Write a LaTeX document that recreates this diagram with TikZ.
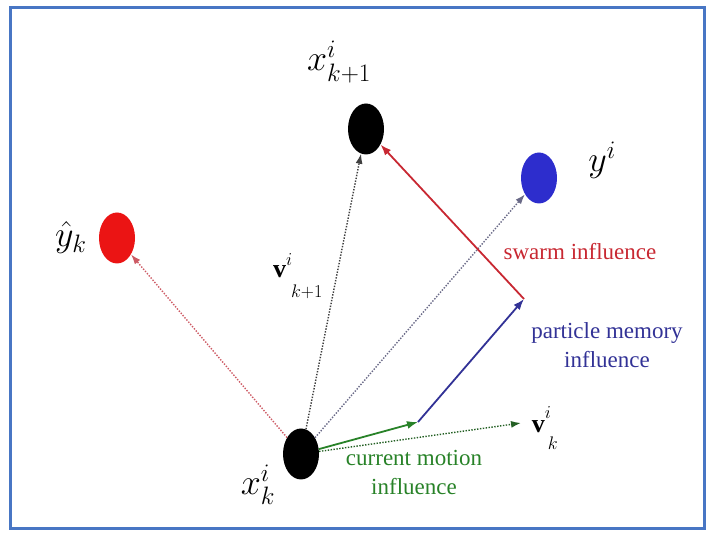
\RequirePackage{fix-cm}
\documentclass[tikz,border=0pt]{standalone}
\usepackage{amsmath,amssymb}
\usepackage{fontspec}
\setmainfont{Liberation Serif}
\usepackage{xcolor}
\usepackage{tikz}
\usetikzlibrary{shapes.geometric,arrows.meta,positioning}
\definecolor{frameblue}{RGB}{72,118,196}
\definecolor{bestred}{RGB}{235,20,20}
\definecolor{memblue}{RGB}{45,45,205}
\definecolor{swarmred}{RGB}{200,40,50}
\definecolor{pathblue}{RGB}{50,50,150}
\definecolor{motgreen}{RGB}{40,130,40}
\definecolor{dotred}{RGB}{205,90,100}
\definecolor{dotgray}{RGB}{105,105,135}
\definecolor{dotgreen}{RGB}{35,95,35}
\newcommand{\upidx}[2]{\raisebox{#1}{$\scriptstyle #2$}}

\begin{document}
\begin{tikzpicture}[x=1pt, y=-1pt,
  particle/.style={ellipse, minimum width=36pt, minimum height=51pt, inner sep=0pt},
  mlab/.style={font=\fontsize{36}{42}\selectfont, inner sep=0pt},
  vlab/.style={font=\fontsize{26}{30}\selectfont, inner sep=0pt},
  txt/.style={font=\fontsize{23}{29}\selectfont, align=center, inner sep=0pt},
  dotarr/.style={line width=1.4pt, dash pattern=on 1.4pt off 1.5pt,
                 -{Latex[length=10pt,width=7pt]}},
  solarr/.style={line width=1.8pt, -{Latex[length=11pt,width=8pt]}},
]
\useasboundingbox (0,0) rectangle (713,534);
\draw[frameblue, line width=3pt] (10,8) rectangle (704,529);

\node[particle, fill=black]   (xk1)  at (366,129) {};
\node[particle, fill=memblue] (yi)   at (539,178) {};
\node[particle, fill=bestred] (yhat) at (117,238) {};
\node[particle, fill=black]   (xk)   at (301,454) {};

\node[mlab] (xk1lab) at (339,62) {$x^{i}_{k+1}$};
\node[mlab] (yilab) at (602,160) {$y^{i}$};
\node[mlab, left=12pt of yhat] (yhatlab) {$\hat{y}_{k}$};
\node[mlab] (xklab) at (258,485) {$x^{i}_{k}$};
\node[vlab] (vk1lab) at (298,276)
  {$\mathbf{v}^{\upidx{3pt}{i}}_{\upidx{-13pt}{\;k+1}}$};
\node[vlab] (vklab) at (545,428)
  {$\mathbf{v}^{\upidx{5pt}{i}}_{\upidx{-11pt}{\,k}}$};

\node[txt, text=swarmred] (swarm) at (580,252) {swarm influence};
\node[txt, text=pathblue] (memory) at (607,345) {particle memory\\influence};
\node[txt, text=motgreen] (motion) at (414,472) {current motion\\influence};

\coordinate (cm) at (418,422);
\coordinate (pm) at (524,299);
\coordinate (vk) at (521,423);

\draw[dotarr, dotred]   (xk) -- (yhat);
\draw[dotarr, black!75] (xk) -- (xk1);
\draw[dotarr, dotgray]  (xk) -- (yi);
\draw[dotarr, dotgreen] (xk) -- (vk);
\draw[solarr, motgreen] (xk) -- (cm);
\draw[solarr, pathblue] (cm) -- (pm);
\draw[solarr, swarmred] (pm) -- (xk1);
\end{tikzpicture}
\end{document}
